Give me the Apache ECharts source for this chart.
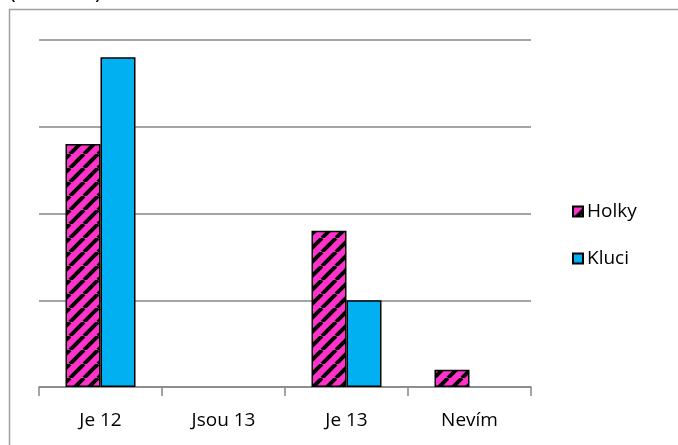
<!DOCTYPE html>
<html>
<head>
<meta charset="utf-8">
<script src="https://cdn.jsdelivr.net/npm/echarts@6/dist/echarts.min.js"></script>
<style>
  html, body { margin: 0; padding: 0; background: #fff; }
  #chart { width: 678px; height: 445px; }
</style>
</head>
<body>
<div id="chart"></div>
<script>
const categories = ['Je 12', 'Jsou 13', 'Je 13', 'Nevím']
const holky = [14, 0, 9, 1]
const kluci = [19, 0, 5, 0]
const yTicks = { min: 0, max: 20, interval: 5 }

// magenta with black diagonal stripes
const makeStripes = () => {
  const size = 14
  const c = document.createElement('canvas')
  c.width = size
  c.height = size
  const ctx = c.getContext('2d')
  ctx.fillStyle = '#ff33cc'
  ctx.fillRect(0, 0, size, size)
  ctx.strokeStyle = '#000'
  ctx.lineWidth = 4
  for (let k = -size; k <= size; k += size) {
    ctx.beginPath()
    ctx.moveTo(k, size)
    ctx.lineTo(k + size, 0)
    ctx.stroke()
  }
  return c
}

const font = "'Open Sans', sans-serif"
const chart = echarts.init(document.getElementById('chart'))

chart.setOption({
  animation: false,
  textStyle: { fontFamily: font },
  graphic: [
    {
      type: 'rect',
      shape: { x: 9.5, y: 9.5, width: 700, height: 460 },
      style: { fill: 'none', stroke: '#a0a0a0', lineWidth: 1.5 },
      silent: true
    },
    {
      type: 'text',
      left: 9,
      top: -20,
      style: { text: '(četnost)', fontSize: 23, fontFamily: font, fill: '#000' },
      silent: true
    }
  ],
  grid: { left: 39, right: 147, top: 40, bottom: 58 },
  legend: {
    orient: 'vertical',
    left: 567,
    top: 197,
    icon: 'rect',
    itemWidth: 10,
    itemHeight: 10,
    itemGap: 28,
    textStyle: { fontSize: 19, color: '#000', fontFamily: font, padding: [0, 0, 0, -1] },
    data: ['Holky', 'Kluci']
  },
  xAxis: {
    type: 'category',
    data: categories,
    axisLine: { lineStyle: { color: '#868686', width: 1.5 } },
    axisTick: { show: true, length: 9, lineStyle: { color: '#868686', width: 1.5 } },
    axisLabel: { color: '#000', fontSize: 19, margin: 24, fontFamily: font }
  },
  yAxis: {
    type: 'value',
    min: yTicks.min,
    max: yTicks.max,
    interval: yTicks.interval,
    axisLine: { show: false },
    axisTick: { show: false },
    axisLabel: { show: false },
    splitLine: { lineStyle: { color: '#868686', width: 1.5 } }
  },
  series: [
    {
      name: 'Holky',
      type: 'bar',
      barWidth: 35,
      barGap: '0%',
      data: holky.map(v => (v === 0 ? '-' : v)),
      itemStyle: {
        color: { image: makeStripes(), repeat: 'repeat' },
        borderColor: '#000',
        borderWidth: 1.5
      }
    },
    {
      name: 'Kluci',
      type: 'bar',
      barWidth: 35,
      data: kluci.map(v => (v === 0 ? '-' : v)),
      itemStyle: { color: '#00b0f0', borderColor: '#000', borderWidth: 1.5 }
    }
  ]
})
</script>
</body>
</html>
